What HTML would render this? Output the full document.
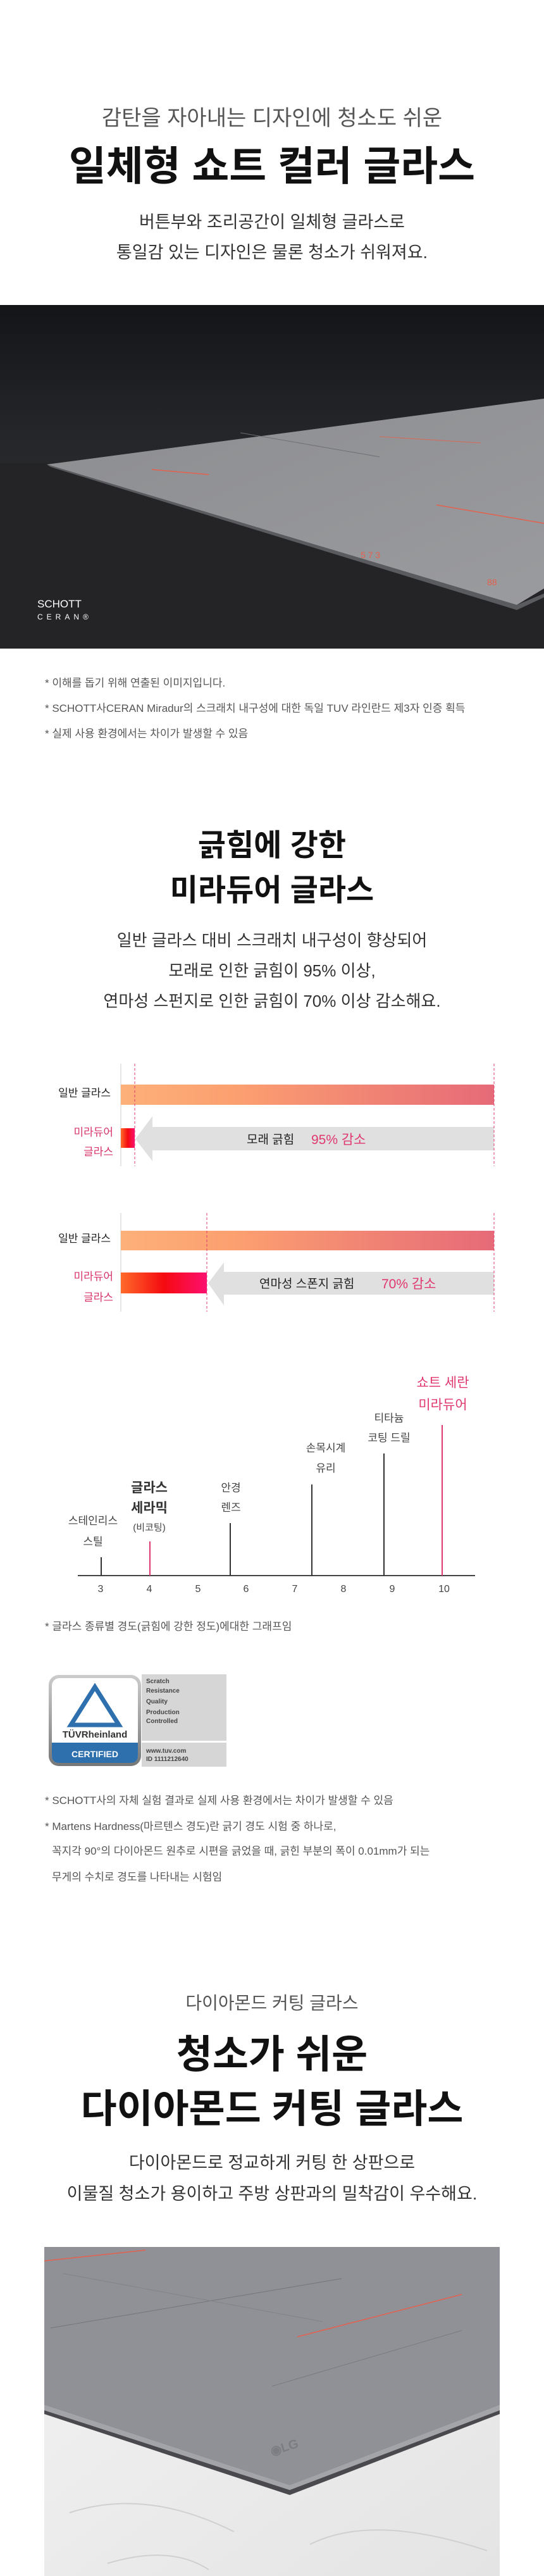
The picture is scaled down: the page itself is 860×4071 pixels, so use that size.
<!DOCTYPE html>
<html><head><meta charset="utf-8">
<style>
*{margin:0;padding:0;box-sizing:border-box}
body{width:860px;height:4071px;background:#fff;position:relative;overflow:hidden;font-family:"Liberation Sans","Noto Sans CJK KR",sans-serif;color:#222}
.c{position:absolute;left:0;width:860px;text-align:center;white-space:nowrap}
.a{position:absolute;white-space:nowrap}
.sub{font-size:34px;color:#555;line-height:40px}
.tit{font-size:64px;font-weight:bold;color:#111;line-height:76px}
.desc{font-size:27px;color:#333;line-height:34px}
.note{font-size:17px;color:#555;line-height:22px;left:71px}
.pk{color:#d8356a}
.lb{font-size:19px;color:#222;line-height:22px;text-align:center}
</style></head><body>

<div class="c sub" style="top:167px">감탄을 자아내는 디자인에 청소도 쉬운</div>
<div class="c tit" style="top:225px">일체형 쇼트 컬러 글라스</div>
<div class="c desc" style="top:334px">버튼부와 조리공간이 일체형 글라스로</div>
<div class="c desc" style="top:382px">통일감 있는 디자인은 물론 청소가 쉬워져요.</div>

<svg class="a" style="left:0;top:482px" width="860" height="543" viewBox="0 0 860 543">
<defs>
<linearGradient id="bg" x1="0" y1="0" x2="0" y2="1"><stop offset="0" stop-color="#141518"/><stop offset="0.4" stop-color="#26272a"/><stop offset="1" stop-color="#2c2c2e"/></linearGradient>
<linearGradient id="top" x1="0" y1="0" x2="1" y2="1"><stop offset="0" stop-color="#8c8d90"/><stop offset="1" stop-color="#9a9b9e"/></linearGradient>
</defs>
<rect width="860" height="543" fill="url(#bg)"/>
<polygon points="0,250 74,250 860,440 860,543 0,543" fill="#242426"/>
<polygon points="74,252 860,148 860,448 817,474" fill="url(#top)"/>
<polygon points="74,252 817,474 860,456 860,462 817,482 80,256" fill="#5a5b5e"/>
<line x1="240" y1="260" x2="330" y2="268" stroke="#e5604e" stroke-width="1.5"/>
<line x1="690" y1="316" x2="860" y2="345" stroke="#e5604e" stroke-width="1.5"/>
<line x1="600" y1="208" x2="760" y2="218" stroke="#d66a5a" stroke-width="1"/>
<line x1="380" y1="202" x2="600" y2="240" stroke="#6e6f72" stroke-width="1"/>
<text x="570" y="400" fill="#e5604e" font-size="14" font-family="Liberation Sans">5  7  3</text>
<text x="770" y="443" fill="#e5604e" font-size="14" font-family="Liberation Sans">88</text>
<text x="59" y="478" fill="#fff" font-size="17" font-family="Liberation Sans">SCHOTT</text>
<text x="59" y="497" fill="#fff" font-size="12" letter-spacing="6" font-family="Liberation Sans">CERAN®</text>
</svg>

<div class="a note" style="top:1069px">* 이해를 돕기 위해 연출된 이미지입니다.</div>
<div class="a note" style="top:1109px">* SCHOTT사CERAN Miradur의 스크래치 내구성에 대한 독일 TUV 라인란드 제3자 인증 획득</div>
<div class="a note" style="top:1149px">* 실제 사용 환경에서는 차이가 발생할 수 있음</div>

<div class="c tit" style="top:1305px;font-size:48px;line-height:64px">긁힘에 강한</div>
<div class="c tit" style="top:1376px;font-size:48px;line-height:64px">미라듀어 글라스</div>
<div class="c desc" style="top:1469px;font-size:26px">일반 글라스 대비 스크래치 내구성이 향상되어</div>
<div class="c desc" style="top:1517px;font-size:26px">모래로 인한 긁힘이 95% 이상,</div>
<div class="c desc" style="top:1565px;font-size:26px">연마성 스펀지로 인한 긁힘이 70% 이상 감소해요.</div>

<svg class="a" style="left:0;top:1660px" width="860" height="430" viewBox="0 1660 860 430">
<defs>
<linearGradient id="g1" x1="0" x2="1"><stop offset="0" stop-color="#fdb07a"/><stop offset="0.3" stop-color="#fca070"/><stop offset="1" stop-color="#e66a78"/></linearGradient>
<linearGradient id="g2" x1="0" x2="1"><stop offset="0" stop-color="#ff6a2a"/><stop offset="0.5" stop-color="#f50a10"/><stop offset="1" stop-color="#fd1070"/></linearGradient>
</defs>
<line x1="191" y1="1681" x2="191" y2="1843" stroke="#ccc"/>
<rect x="191" y="1714" width="590" height="32" fill="url(#g1)"/>
<rect x="191" y="1783" width="22" height="31" fill="url(#g2)"/>
<polygon points="214,1800 241,1764 241,1781 781,1781 781,1818 241,1818 241,1835" fill="#e0e0e0"/>
<line x1="213" y1="1681" x2="213" y2="1843" stroke="#e0386e" stroke-dasharray="4,3"/>
<line x1="781" y1="1681" x2="781" y2="1843" stroke="#e0386e" stroke-dasharray="4,3"/>
<line x1="191" y1="1917" x2="191" y2="2073" stroke="#ccc"/>
<rect x="191" y="1945" width="590" height="31" fill="url(#g1)"/>
<rect x="191" y="2011" width="136" height="33" fill="url(#g2)"/>
<polygon points="329,2028 354,1995 354,2010 781,2010 781,2046 354,2046 354,2063" fill="#e0e0e0"/>
<line x1="327" y1="1917" x2="327" y2="2073" stroke="#e0386e" stroke-dasharray="4,3"/>
<line x1="781" y1="1917" x2="781" y2="2073" stroke="#e0386e" stroke-dasharray="4,3"/>
<g font-family="Liberation Sans,Noto Sans CJK KR,sans-serif" font-size="17">
<text x="175" y="1733" text-anchor="end" fill="#222">일반 글라스</text>
<text x="179" y="1795" text-anchor="end" fill="#d8356a">미라듀어</text>
<text x="179" y="1826" text-anchor="end" fill="#d8356a">글라스</text>
<text x="175" y="1963" text-anchor="end" fill="#222">일반 글라스</text>
<text x="179" y="2023" text-anchor="end" fill="#d8356a">미라듀어</text>
<text x="179" y="2056" text-anchor="end" fill="#d8356a">글라스</text>
<text x="390" y="1807" fill="#222" font-size="19">모래 긁힘</text>
<text x="492" y="1808" fill="#e0386e" font-size="21">95% 감소</text>
<text x="410" y="2035" fill="#222" font-size="19">연마성 스폰지 긁힘</text>
<text x="603" y="2036" fill="#e0386e" font-size="21">70% 감소</text>
</g>
</svg>

<svg class="a" style="left:0;top:2160px" width="860" height="370" viewBox="0 2160 860 370">
<line x1="123" y1="2490" x2="751" y2="2490" stroke="#444" stroke-width="2"/>
<g stroke-width="2">
<line x1="160" y1="2461" x2="160" y2="2490" stroke="#333"/>
<line x1="237" y1="2436" x2="237" y2="2490" stroke="#e0386e"/>
<line x1="364" y1="2407" x2="364" y2="2490" stroke="#333"/>
<line x1="493" y1="2346" x2="493" y2="2490" stroke="#333"/>
<line x1="607" y1="2297" x2="607" y2="2490" stroke="#333"/>
<line x1="699" y1="2252" x2="699" y2="2490" stroke="#e0386e"/>
</g>
<g font-family="Liberation Sans,Noto Sans CJK KR,sans-serif" font-size="16" fill="#444" text-anchor="middle">
<text x="159" y="2516">3</text><text x="236" y="2516">4</text><text x="313" y="2516">5</text><text x="389" y="2516">6</text><text x="466" y="2516">7</text><text x="543" y="2516">8</text><text x="620" y="2516">9</text><text x="702" y="2516">10</text>
<text x="147" y="2409" font-size="17">스테인리스</text>
<text x="147" y="2442" font-size="17">스틸</text>
<text x="236" y="2358" font-size="21" font-weight="bold" fill="#333">글라스</text>
<text x="236" y="2390" font-size="21" font-weight="bold" fill="#333">세라믹</text>
<text x="236" y="2419" font-size="15">(비코팅)</text>
<text x="365" y="2357" font-size="17">안경</text>
<text x="365" y="2388" font-size="17">렌즈</text>
<text x="515" y="2294" font-size="17">손목시계</text>
<text x="515" y="2326" font-size="17">유리</text>
<text x="615" y="2247" font-size="17">티타늄</text>
<text x="615" y="2278" font-size="17">코팅 드릴</text>
<text x="700" y="2192" font-size="21" fill="#e0386e">쇼트 세란</text>
<text x="700" y="2227" font-size="21" fill="#e0386e">미라듀어</text>
</g>
</svg>

<div class="a note" style="top:2560px">* 글라스 종류별 경도(긁힘에 강한 정도)에대한 그래프임</div>

<svg class="a" style="left:76px;top:2646px" width="284" height="148" viewBox="0 0 284 148">
<defs><linearGradient id="fr" x1="0" y1="0" x2="0" y2="1"><stop offset="0" stop-color="#ccc"/><stop offset="1" stop-color="#777"/></linearGradient></defs>
<rect x="148" y="0" width="134" height="146" fill="#d6d6d6"/>
<rect x="148" y="105" width="134" height="3" fill="#fff"/>
<rect x="1" y="1" width="146" height="144" rx="16" fill="url(#fr)"/>
<rect x="6" y="6" width="136" height="134" rx="12" fill="#fff"/>
<path d="M6,108 H142 V128 Q142,140 130,140 H18 Q6,140 6,128 Z" fill="#2e6fae"/>
<polygon points="74,20 112,80 36,80" fill="none" stroke="#2e6fae" stroke-width="7"/>
<text x="74" y="100" text-anchor="middle" font-family="Liberation Sans" font-weight="bold" font-size="15" fill="#333">TÜVRheinland</text>
<text x="74" y="131" text-anchor="middle" font-family="Liberation Sans" font-weight="bold" font-size="14" fill="#fff">CERTIFIED</text>
<g font-family="Liberation Sans" font-weight="bold" font-size="10" fill="#444">
<text x="155" y="14">Scratch</text><text x="155" y="29">Resistance</text><text x="155" y="46">Quality</text><text x="155" y="63">Production</text><text x="155" y="77">Controlled</text>
<text x="155" y="124">www.tuv.com</text><text x="155" y="137">ID  1111212640</text>
</g>
</svg>

<div class="a note" style="top:2835px">* SCHOTT사의 자체 실험 결과로 실제 사용 환경에서는 차이가 발생할 수 있음</div>
<div class="a note" style="top:2876px">* Martens Hardness(마르텐스 경도)란 긁기 경도 시험 중 하나로,</div>
<div class="a note" style="top:2915px;left:82px">꼭지각 90°의 다이아몬드 원추로 시편을 긁었을 때, 긁힌 부분의 폭이 0.01mm가 되는</div>
<div class="a note" style="top:2956px;left:82px">무게의 수치로 경도를 나타내는 시험임</div>

<div class="c sub" style="top:3146px;font-size:28px;color:#555">다이아몬드 커팅 글라스</div>
<div class="c tit" style="top:3210px;font-size:62px">청소가 쉬운</div>
<div class="c tit" style="top:3296px;font-size:62px">다이아몬드 커팅 글라스</div>
<div class="c desc" style="top:3401px">다이아몬드로 정교하게 커팅 한 상판으로</div>
<div class="c desc" style="top:3450px">이물질 청소가 용이하고 주방 상판과의 밀착감이 우수해요.</div>

<svg class="a" style="left:70px;top:3551px" width="720" height="520" viewBox="0 0 720 520">
<defs><linearGradient id="mb" x1="0" y1="0" x2="1" y2="1"><stop offset="0" stop-color="#f2f2f2"/><stop offset="1" stop-color="#e4e4e4"/></linearGradient></defs>
<rect width="720" height="520" fill="url(#mb)"/>
<path d="M40,420 Q160,380 300,450 M420,470 Q520,420 700,480 M100,500 Q200,470 260,510" stroke="#d0d0d0" stroke-width="2" fill="none"/>
<polygon points="0,258 388,384 720,258 720,264 388,392 0,264" fill="#4a4a4e"/>
<polygon points="0,0 720,0 720,250 388,377 0,250" fill="#909196"/>
<polygon points="0,250 388,377 720,250 720,258 388,384 0,258" fill="#a3a4a8"/>
<line x1="0" y1="22" x2="160" y2="5" stroke="#e5604e" stroke-width="1.5"/>
<line x1="400" y1="142" x2="660" y2="75" stroke="#e5604e" stroke-width="1.5"/>
<line x1="10" y1="128" x2="470" y2="50" stroke="#74757a" stroke-width="1"/>
<line x1="30" y1="42" x2="440" y2="118" stroke="#828388" stroke-width="1"/>
<line x1="360" y1="220" x2="660" y2="132" stroke="#7a7b80" stroke-width="1"/>
<text x="360" y="330" font-family="Liberation Sans" font-weight="bold" font-size="20" fill="#7c7d82" transform="rotate(-18 360 330)">◉LG</text>
</svg>

</body></html>
